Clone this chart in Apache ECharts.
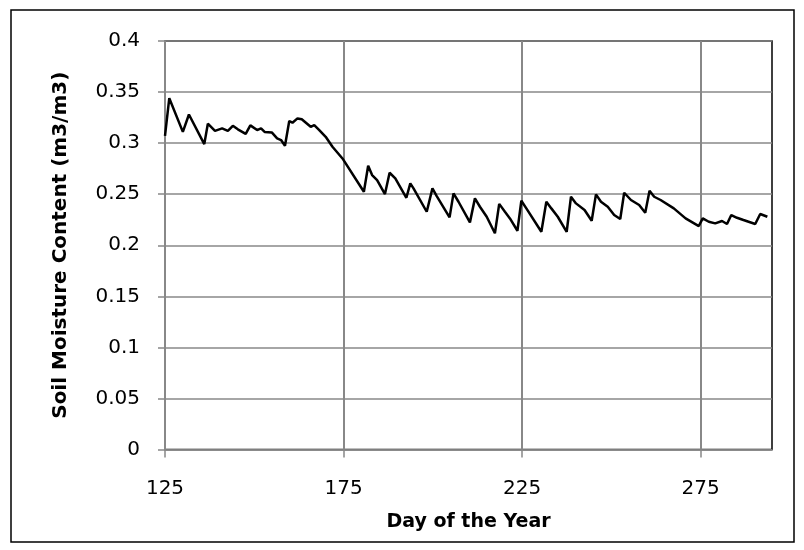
<!DOCTYPE html>
<html>
<head>
<meta charset="utf-8">
<script src="https://cdn.jsdelivr.net/npm/echarts@6/dist/echarts.min.js"></script>
<style>
html,body{margin:0;padding:0;background:#fff;}
#c{width:804px;height:550px;}
</style>
</head>
<body>
<div id="c"></div>
<script>
const days = [125, 126.2, 130, 131.7, 136, 137, 139, 141, 142.6, 144, 145.4, 147.6, 148.9, 150.8, 151.9, 152.9, 154.9, 156.4, 157.5, 158.6, 159.8, 160.7, 162.1, 163.3, 165.8, 166.8, 168.2, 170, 171.9, 174.7, 180.7, 181.9, 183, 184.4, 186.6, 187.9, 189.5, 192.6, 193.7, 194.6, 198.3, 199.9, 201.1, 204.7, 205.8, 207.2, 210.4, 211.8, 213.2, 215.1, 217.4, 218.6, 220.2, 221.6, 223.7, 224.8, 226.2, 230.4, 231.8, 233.2, 235, 237.5, 238.7, 240.1, 242.5, 244.5, 245.7, 247.1, 249, 250.8, 252.5, 253.6, 255.5, 257.8, 259.5, 260.7, 262, 263.8, 267.5, 270.8, 274.5, 275.6, 277.3, 279.1, 281, 282.4, 283.6, 285.2, 287, 290.3, 291.7, 293.7];
const moisture = [0.307, 0.344, 0.311, 0.328, 0.299, 0.319, 0.312, 0.3145, 0.312, 0.317, 0.3135, 0.309, 0.3174, 0.3128, 0.3145, 0.311, 0.3105, 0.3047, 0.303, 0.2975, 0.3216, 0.320, 0.3242, 0.3233, 0.316, 0.3177, 0.3128, 0.3062, 0.2964, 0.285, 0.2524, 0.2778, 0.2687, 0.2638, 0.2501, 0.271, 0.2655, 0.2465, 0.2606, 0.2557, 0.2328, 0.2557, 0.2482, 0.2273, 0.2508, 0.2426, 0.2224, 0.2459, 0.2377, 0.2279, 0.2117, 0.2405, 0.2328, 0.2263, 0.2142, 0.2436, 0.2361, 0.2132, 0.2426, 0.2361, 0.2279, 0.2132, 0.2475, 0.241, 0.2345, 0.224, 0.2498, 0.2426, 0.2377, 0.2296, 0.2257, 0.2514, 0.2443, 0.2394, 0.2318, 0.2534, 0.2475, 0.2443, 0.2361, 0.2263, 0.2188, 0.2263, 0.223, 0.2214, 0.2237, 0.2208, 0.2296, 0.2269, 0.2247, 0.2208, 0.2306, 0.2279];
const xTicks = [125, 175, 225, 275];
const xTitle = 'Day of the Year';
const yTitle = 'Soil Moisture Content (m3/m3)';

const data = days.map((d, i) => [d, moisture[i]]);
const FONT = 'DejaVu Sans';
const chart = echarts.init(document.getElementById('c'), null, {renderer: 'canvas'});
chart.setOption({
  animation: false,
  backgroundColor: '#fff',
  graphic: [{
    type: 'rect', silent: true, z: 100,
    shape: {x: 11, y: 10, width: 783, height: 532},
    style: {fill: 'none', stroke: '#000', lineWidth: 1.5}
  }],
  grid: {left: 165, right: 32, top: 41, bottom: 100.5, show: true, borderColor: '#000', borderWidth: 1.5, backgroundColor: 'transparent'},
  xAxis: {
    type: 'value', min: 125, max: 295, interval: 50,
    name: xTitle, nameLocation: 'middle', nameGap: 63,
    nameTextStyle: {fontFamily: FONT, fontWeight: 'bold', fontSize: 19, color: '#000'},
    axisLine: {show: true, lineStyle: {color: '#888', width: 1.5}},
    axisTick: {show: true, length: 8, inside: false, lineStyle: {color: '#888', width: 1.5}, customValues: xTicks},
    axisLabel: {fontFamily: FONT, fontSize: 20, color: '#000', margin: 29, customValues: xTicks},
    splitLine: {show: true, lineStyle: {color: '#888', width: 2}}
  },
  yAxis: {
    type: 'value', min: 0, max: 0.4, interval: 0.05,
    name: yTitle, nameLocation: 'middle', nameGap: 94, nameRotate: 90,
    nameTextStyle: {fontFamily: FONT, fontWeight: 'bold', fontSize: 20, color: '#000'},
    axisLine: {show: true, lineStyle: {color: '#888', width: 1.5}},
    axisTick: {show: true, length: 7, lineStyle: {color: '#888', width: 1.5}},
    axisLabel: {fontFamily: FONT, fontSize: 20, color: '#000', margin: 25},
    splitLine: {show: true, lineStyle: {color: '#888', width: 1.5}}
  },
  series: [{
    type: 'line', data: data, showSymbol: false, symbol: 'none',
    lineStyle: {color: '#000', width: 2.5}, z: 10
  }]
});
</script>
</body>
</html>
